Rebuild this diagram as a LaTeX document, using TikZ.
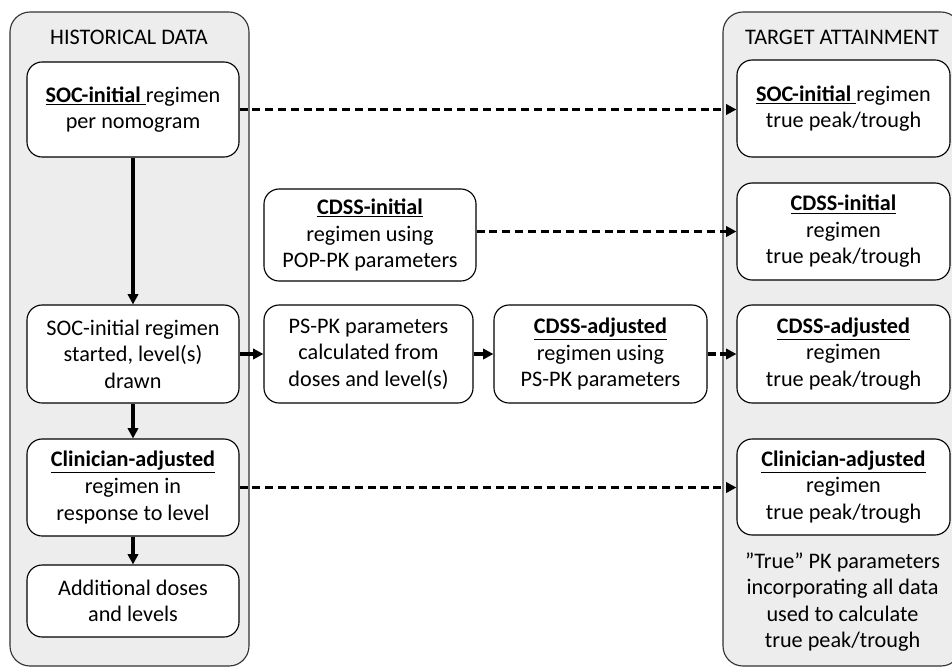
\documentclass[tikz,border=0pt]{standalone}
\usepackage{fontspec}
\setmainfont{Carlito}
\usetikzlibrary{arrows.meta}
\definecolor{panelgray}{HTML}{EDEDED}
\tikzset{
    box/.style={draw, rounded corners=3.8mm, fill=white, line width=0.8pt, align=center,
        inner sep=2pt, font=\fontsize{15.8}{18.9}\selectfont},
    flow/.style={line width=2.2pt, -{Triangle[length=2.6mm,width=2.6mm]}},
    link/.style={flow, dash pattern=on 2mm off 1.2mm},
    panel/.style={draw=black!80, fill=panelgray, line width=0.8pt, rounded corners=5mm}
}
\begin{document}
\begin{tikzpicture}[x=0.025cm, y=-0.025cm]
    \useasboundingbox (0,0) rectangle (952,671);
    \clip (0,0) rectangle (952,671);
    % Grey panels
    \draw[panel] (10,12) rectangle (249,666);
    \draw[panel] (723,12) rectangle (961,666);
    \node[font=\fontsize{15.8}{18.9}\selectfont] (histtitle) at (129,37) {HISTORICAL DATA};
    \node[font=\fontsize{15.8}{18.9}\selectfont] (targtitle) at (842,37) {TARGET ATTAINMENT};
    % Historical data column
    \node[box, minimum width=5.3cm, minimum height=2.375cm] (soc) at (133,109.5)
        {\underline{\textbf{SOC-initial} }regimen\\per nomogram};
    \node[box, minimum width=5.3cm, minimum height=2.45cm] (started) at (133,354)
        {SOC-initial regimen\\started, level(s)\\drawn};
    \node[box, minimum width=5.3cm, minimum height=2.425cm] (clin) at (133,487.5)
        {\underline{\textbf{Clinician-adjusted}}\\regimen in\\response to level};
    \node[box, minimum width=5.3cm, minimum height=1.8cm] (addl) at (133,601)
        {Additional doses\\and levels};
    % Middle boxes
    \node[box, minimum width=5.3cm, minimum height=2.3cm] (cdssi) at (370,235)
        {\underline{\textbf{CDSS-initial}}\\regimen using\\POP-PK parameters};
    \node[box, minimum width=5.225cm, minimum height=2.45cm] (pspk) at (368.5,354)
        {PS-PK parameters\\calculated from\\doses and level(s)};
    \node[box, minimum width=5.325cm, minimum height=2.45cm] (cdssa) at (600.5,354)
        {\underline{\textbf{CDSS-adjusted}}\\regimen using\\PS-PK parameters};
    % Target attainment column
    \node[box, minimum width=5.325cm, minimum height=2.425cm] (tsoc) at (843.5,108.5)
        {\underline{\textbf{SOC-initial} }regimen\\true peak/trough};
    \node[box, minimum width=5.325cm, minimum height=2.425cm] (tcdssi) at (843.5,231.5)
        {\underline{\textbf{CDSS-initial}}\\regimen\\true peak/trough};
    \node[box, minimum width=5.325cm, minimum height=2.45cm] (tcdssa) at (843.5,354)
        {\underline{\textbf{CDSS-adjusted}}\\regimen\\true peak/trough};
    \node[box, minimum width=5.325cm, minimum height=2.4cm] (tclin) at (843.5,487)
        {\underline{\textbf{Clinician-adjusted}}\\regimen\\true peak/trough};
    \node[align=center, font=\fontsize{15.8}{18.9}\selectfont] (truepk) at (842.5,602)
        {"True" PK parameters\\incorporating all data\\used to calculate\\true peak/trough};
    % Solid arrows
    \draw[flow] (soc) -- (started);
    \draw[flow] (started) -- (clin);
    \draw[flow] (clin) -- (addl);
    \draw[flow] (started) -- (pspk);
    \draw[flow] (pspk) -- (cdssa);
    % Dashed arrows
    \draw[link] (soc.east) -- (soc.east -| tsoc.west);
    \draw[link] (cdssi.east |- tcdssi.west) -- (tcdssi.west);
    \draw[link] (cdssa) -- (tcdssa);
    \draw[link] (clin.east) -- (clin.east -| tclin.west);
\end{tikzpicture}
\end{document}
